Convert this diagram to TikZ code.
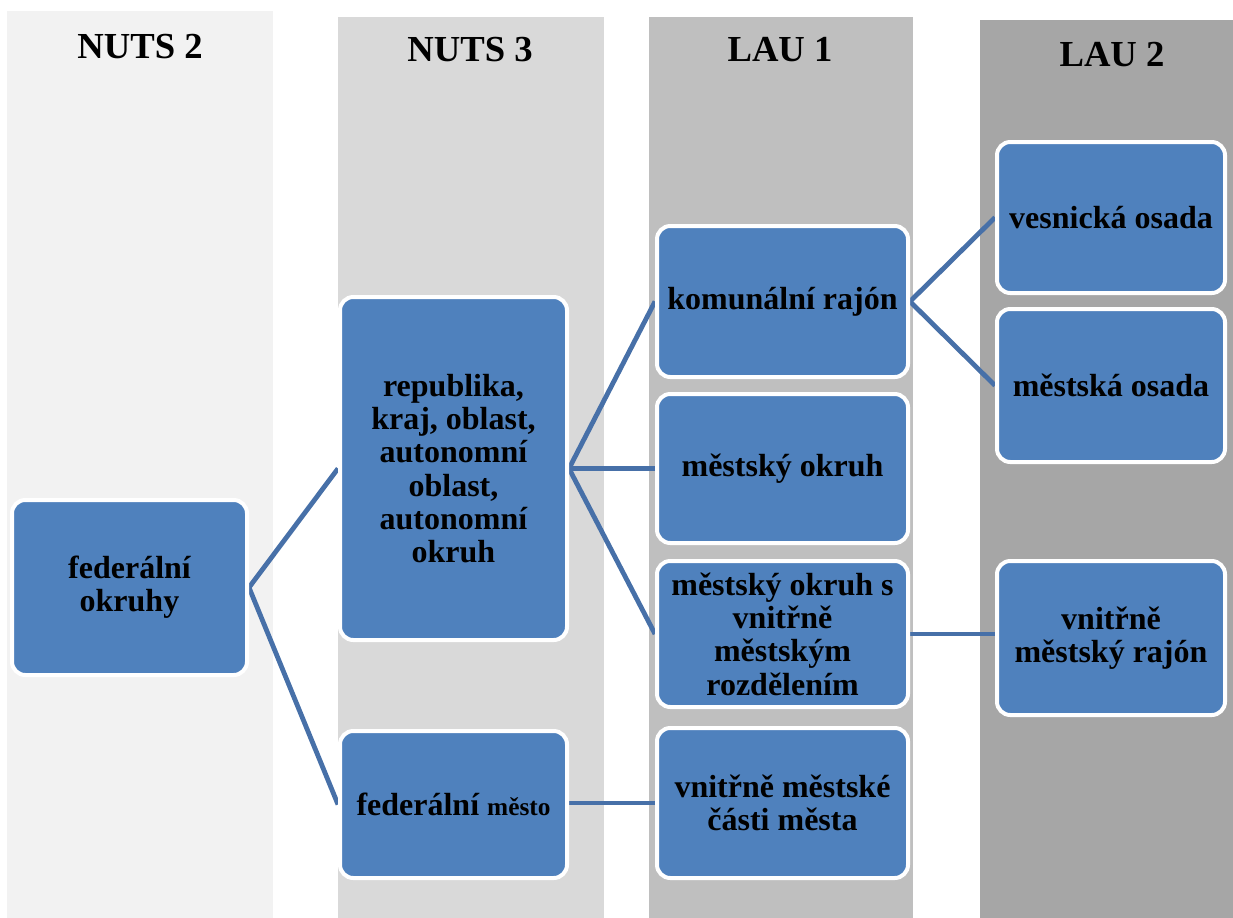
\documentclass[tikz,border=0pt]{standalone}
\usepackage{fontspec}
\setmainfont{Liberation Serif}
\usetikzlibrary{backgrounds}
\definecolor{bandA}{HTML}{F2F2F2}
\definecolor{bandB}{HTML}{D9D9D9}
\definecolor{bandC}{HTML}{BFBFBF}
\definecolor{bandD}{HTML}{A6A6A6}
\definecolor{boxblue}{HTML}{4F81BD}
\definecolor{linkblue}{HTML}{4770A8}
\begin{document}
\begin{tikzpicture}[x=0.75pt,y=-0.75pt,
  box/.style={draw=white, line width=3pt, fill=boxblue, rounded corners=10pt,
    inner sep=0pt, align=center, text=black,
    font=\fontsize{24}{25}\selectfont\bfseries},
  link/.style={draw=linkblue, line width=3.6pt},
  head/.style={inner sep=0pt, font=\fontsize{27.5}{30}\selectfont\bfseries}]
\useasboundingbox (0,0) rectangle (1233,918);

% units
\node[box, minimum width=176.25pt, minimum height=131.25pt] (fo) at (129.5,587.5) {federální\\okruhy};
\node[box, minimum width=170.25pt, minimum height=257.25pt] (rep) at (453.5,468.5) {republika,\\kraj, oblast,\\autonomní\\oblast,\\autonomní\\okruh};
\node[box, minimum width=170.25pt, minimum height=110.25pt] (fm) at (453.5,804.5) {federální {\fontsize{19}{20}\selectfont město}};
\node[box, minimum width=188.25pt, minimum height=113.25pt] (kr) at (782.5,301.5) {komunální rajón};
\node[box, minimum width=188.25pt, minimum height=111.75pt] (mo) at (782.5,468.5) {městský okruh};
\node[box, minimum width=188.25pt, minimum height=109.5pt] (mos) at (782.5,634) {městský okruh s\\vnitřně\\městským\\rozdělením};
\node[box, minimum width=188.25pt, minimum height=112.5pt] (vmc) at (782.5,803) {vnitřně městské\\části města};
\node[box, minimum width=171pt, minimum height=113.25pt] (vo) at (1111,217.5) {vesnická osada};
\node[box, minimum width=171pt, minimum height=114.75pt] (mso) at (1111,385.5) {městská osada};
\node[box, minimum width=171pt, minimum height=115.5pt] (vmr) at (1111,638) {vnitřně\\městský rajón};

\begin{scope}[on background layer]
  % level bands
  \fill[bandA] (7,11) rectangle (273,918);
  \fill[bandB] (338,17) rectangle (604,918);
  \fill[bandC] (649,17) rectangle (913,918);
  \fill[bandD] (980,20) rectangle (1233,918);
  % connectors, behind the units
  \draw[link] (fo.east) -- (rep.west);
  \draw[link] (fo.east) -- (fm.west);
  \draw[link] (rep.east) -- (kr.west);
  \draw[link] (rep.east) -- (mo.west);
  \draw[link] (rep.east) -- (mos.west);
  \draw[link] (vmc.west -| fm.east) -- (vmc.west);
  \draw[link] (kr.east) -- (vo.west);
  \draw[link] (kr.east) -- (mso.west);
  \draw[link] (mos.east) -- (mos.east -| vmr.west);
\end{scope}

% band titles
\node[head] (h1) at (140,47) {NUTS 2};
\node[head] (h2) at (470,50) {NUTS 3};
\node[head] (h3) at (780,50) {LAU 1};
\node[head] (h4) at (1112,55) {LAU 2};
\end{tikzpicture}
\end{document}
